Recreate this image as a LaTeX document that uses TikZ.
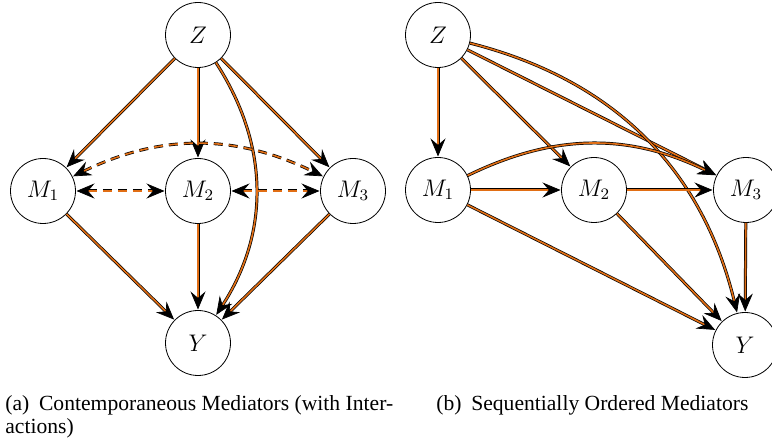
\documentclass[tikz,border=0pt]{standalone}
\usepackage[no-math]{fontspec}
\setmainfont{Liberation Serif}
\usetikzlibrary{arrows.meta}
\definecolor{edgeorange}{RGB}{225,110,20}
\begin{document}
\begin{tikzpicture}[x=0.5pt,y=-0.5pt,
  var/.style={circle,draw,line width=0.4pt,minimum size=32.5pt,inner sep=0pt,font=\large},
  causal/.style={draw=black,line width=0.35pt,double=edgeorange,double distance=0.8pt,
    -{Stealth[length=9pt,width=7.5pt,inset=3.2pt]},shorten >=0.3pt},
  assoc/.style={causal,{Stealth[length=9pt,width=7.5pt,inset=3.2pt]}-{Stealth[length=9pt,width=7.5pt,inset=3.2pt]},dash pattern=on 4.5pt off 3pt,shorten <=0.3pt},
  captext/.style={anchor=base west,inner sep=0pt,font=\fontsize{10.8pt}{13pt}\selectfont}]
\useasboundingbox (0,0) rectangle (772,443);
% panel (a)
\node[var] (aZ) at (198,35) {$Z$};
\node[var] (aM1) at (43,191) {$M_1$};
\node[var] (aM2) at (198,191) {$M_2$};
\node[var] (aM3) at (353,191) {$M_3$};
\node[var] (aY) at (198,343) {$Y$};
\draw[causal] (aZ) -- (aM1);
\draw[causal] (aZ) -- (aM2);
\draw[causal] (aZ) -- (aM3);
\draw[causal] (aZ) to[bend left=33] (aY);
\draw[causal] (aM1) -- (aY);
\draw[causal] (aM2) -- (aY);
\draw[causal] (aM3) -- (aY);
\draw[assoc] (aM1) -- (aM2);
\draw[assoc] (aM2) -- (aM3);
\draw[assoc] (aM1) to[bend left=26] (aM3);
% panel (b)
\node[var] (bZ) at (438,35) {$Z$};
\node[var] (bM1) at (438,190) {$M_1$};
\node[var] (bM2) at (594,190) {$M_2$};
\node[var] (bM3) at (746,190) {$M_3$};
\node[var] (bY) at (745,345) {$Y$};
\draw[causal] (bZ) -- (bM1);
\draw[causal] (bZ) -- (bM2);
\draw[causal] (bZ) -- (bM3);
\draw[causal] (bZ) to[bend left=31] (bY);
\draw[causal] (bM1) to[bend left=26] (bM3);
\draw[causal] (bM1) -- (bM2);
\draw[causal] (bM2) -- (bM3);
\draw[causal] (bM1) -- (bY);
\draw[causal] (bM2) -- (bY);
\draw[causal] (bM3) -- (bY);
% captions
\node[captext] (capa1) at (5,411) {(a)\hspace{0.45em}Contemporaneous Mediators (with Inter-};
\node[captext] (capa2) at (5,434) {actions)};
\node[captext] (capb) at (436,411) {(b)\hspace{0.45em}Sequentially Ordered Mediators};
\end{tikzpicture}
\end{document}
